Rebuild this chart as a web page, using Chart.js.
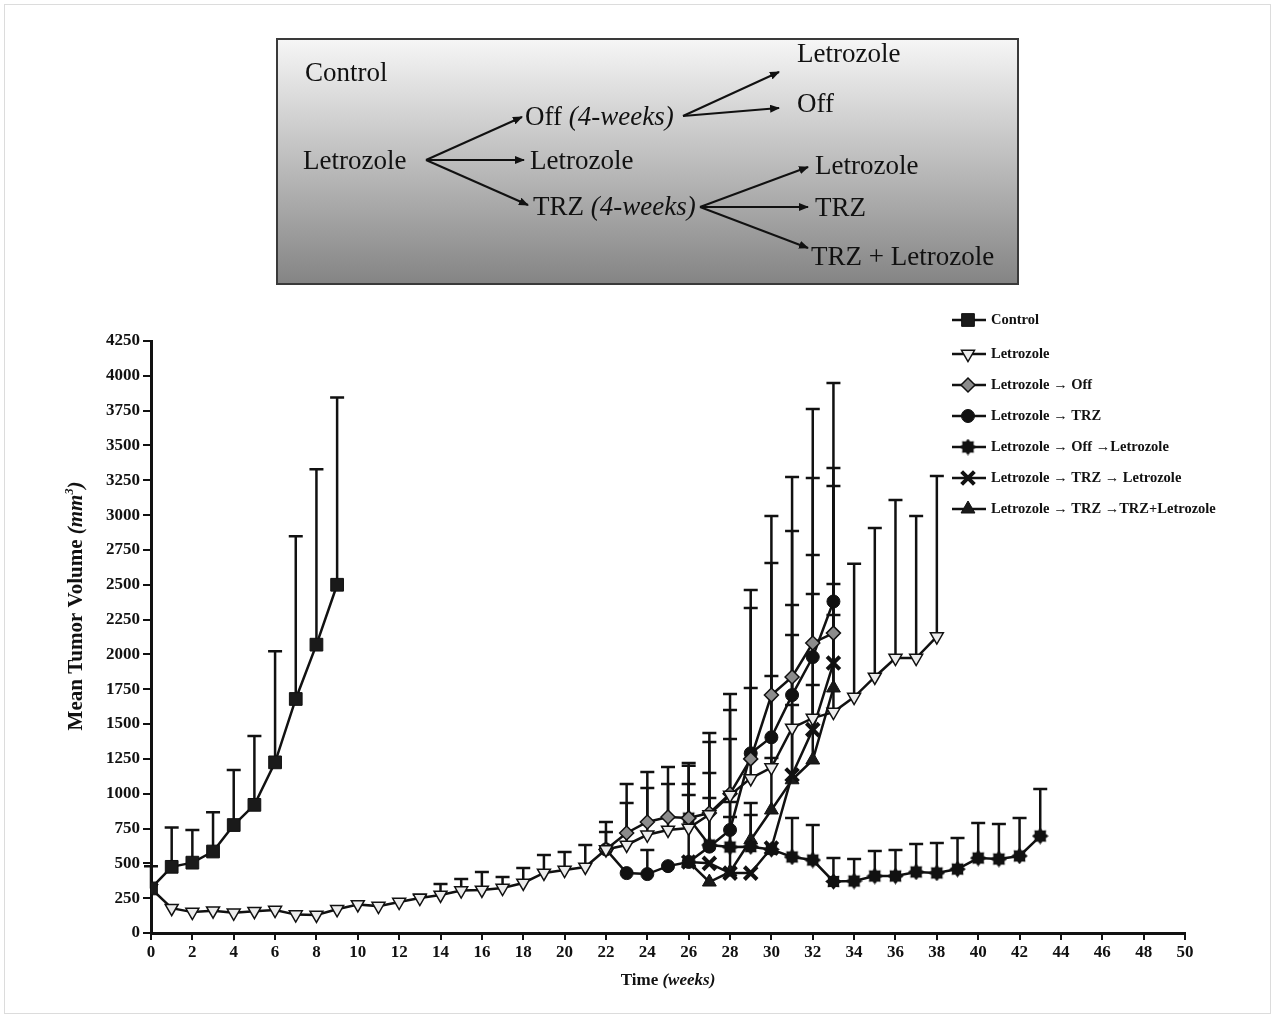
<!DOCTYPE html>
<html lang="en">
<head>
<meta charset="UTF-8">
<title>Mean Tumor Volume</title>
<script src="https://cdn.jsdelivr.net/npm/chart.js"></script>
<style>
  html, body { margin: 0; padding: 0; background: #fff; overflow: hidden; }
  #page { position: relative; width: 1275px; height: 1018px; }
  #frame { position: absolute; left: 4px; top: 4px; right: 4px; bottom: 4px; border: 1px solid #dcdcdc; }
  #chartWrap { position: absolute; left: 0; top: 0; width: 1275px; height: 1018px; }
  #scheme { position: absolute; left: 276px; top: 38px; }
  #scheme text { font-family: "Liberation Serif", "Times New Roman", serif; font-size: 27px; fill: #111; }
</style>
</head>
<body>
<div id="page">
  <div id="frame"></div>
  <div id="chartWrap"><canvas id="tumorChart"></canvas></div>

  <!-- treatment scheme box -->
  <svg id="scheme" width="744" height="248" viewBox="0 0 744 248">
    <defs>
      <linearGradient id="boxFill" x1="0" y1="0" x2="0" y2="1">
        <stop offset="0" stop-color="#f6f6f6"/>
        <stop offset="1" stop-color="#848484"/>
      </linearGradient>
      <marker id="head" markerWidth="10" markerHeight="8" refX="9" refY="4" orient="auto" markerUnits="userSpaceOnUse">
        <path d="M0,0 L10,4 L0,8 z" fill="#111"/>
      </marker>
    </defs>
    <rect x="1" y="1" width="741" height="245" fill="url(#boxFill)" stroke="#3a3a3a" stroke-width="2"/>
    <g stroke="#111" stroke-width="2" marker-end="url(#head)">
      <line x1="150" y1="122" x2="246" y2="79"/>
      <line x1="150" y1="122" x2="248" y2="122"/>
      <line x1="150" y1="122" x2="252" y2="167"/>
      <line x1="407" y1="78" x2="503" y2="34"/>
      <line x1="407" y1="78" x2="503" y2="70"/>
      <line x1="424" y1="169" x2="532" y2="129"/>
      <line x1="424" y1="169" x2="532" y2="169"/>
      <line x1="424" y1="169" x2="532" y2="210"/>
    </g>
    <text x="29" y="34" dominant-baseline="central">Control</text>
    <text x="27" y="122" dominant-baseline="central">Letrozole</text>
    <text x="249" y="78" dominant-baseline="central">Off <tspan font-style="italic">(4-weeks)</tspan></text>
    <text x="254" y="122" dominant-baseline="central">Letrozole</text>
    <text x="257" y="168" dominant-baseline="central">TRZ <tspan font-style="italic">(4-weeks)</tspan></text>
    <text x="521" y="15" dominant-baseline="central">Letrozole</text>
    <text x="521" y="65" dominant-baseline="central">Off</text>
    <text x="539" y="127" dominant-baseline="central">Letrozole</text>
    <text x="539" y="169" dominant-baseline="central">TRZ</text>
    <text x="535" y="218" dominant-baseline="central">TRZ + Letrozole</text>
  </svg>
</div>

<script>
// ---- data (weeks, mean volume, top of error bar = mean + SD) ----
const controlWeeks = [0, 1, 2, 3, 4, 5, 6, 7, 8, 9];
const controlMean = [320, 475, 505, 585, 775, 920, 1225, 1680, 2070, 2500];
const controlTop = [480, 758, 740, 866, 1170, 1415, 2022, 2848, 3330, 3845];

const letWeeks = [0, 1, 2, 3, 4, 5, 6, 7, 8, 9, 10, 11, 12, 13, 14, 15, 16, 17, 18, 19,
  20, 21, 22, 23, 24, 25, 26, 27, 28, 29, 30, 31, 32, 33, 34, 35, 36, 37, 38];
const letMean = [320, 178, 150, 160, 145, 157, 165, 132, 130, 170, 205, 193, 222, 251, 273, 305, 309, 323, 359, 431,
  452, 474, 600, 632, 705, 740, 754, 850, 990, 1110, 1188, 1472, 1543, 1586, 1694, 1838, 1974, 1974, 2128];
const letTop = [null, null, null, null, null, null, null, null, null, null, null, null, null, 275, 352, 388, 438, 402, 467, 560,
  581, 632, 725, 933, 1041, 1070, 1070, 1371, 1716, 1759, 1845, 2355, 2434, 2505, 2650, 2907, 3108, 2994, 3281];

const offWeeks = [22, 23, 24, 25, 26, 27, 28, 29, 30, 31, 32, 33];
const offMean = [600, 718, 797, 833, 825, 861, 1000, 1250, 1708, 1838, 2082, 2153];
const offTop = [797, 1070, 1156, 1192, 1220, 1436, 1601, 2333, 2994, 2886, 3266, 3338];

const trzWeeks = [22, 23, 24, 25, 26, 27, 28, 29, 30, 31, 32, 33];
const trzMean = [600, 430, 423, 480, 510, 620, 740, 1290, 1405, 1708, 1981, 2380];
const trzTop = [null, null, 596, null, 990, 1149, 1393, 2462, 2656, 3274, 3762, 3948];

const offLetWeeks = [26, 27, 28, 29, 30, 31, 32, 33, 34, 35, 36, 37, 38, 39, 40, 41, 42, 43];
const offLetMean = [825, 632, 617, 620, 600, 546, 524, 370, 373, 409, 409, 438, 431, 459, 538, 531, 553, 696];
const offLetTop = [1200, 969, 833, 847, null, 825, 775, 538, 531, 589, 596, 639, 646, 682, 790, 782, 825, 1034];

const trzLetWeeks = [26, 27, 28, 29, 30, 31, 32, 33];
const trzLetMean = [510, 500, 430, 430, 610, 1134, 1460, 1938];
const trzLetTop = [null, null, null, null, null, 2139, 2714, 3209];

const comboWeeks = [26, 27, 28, 29, 30, 31, 32, 33];
const comboMean = [510, 366, 438, 668, 883, 1100, 1242, 1759];
const comboTop = [null, null, 940, 933, 1256, 1637, 1780, 2283];

const xTicks = { min: 0, max: 50, step: 2 };
const yTicks = { min: 0, max: 4250, step: 250 };

// ---- helpers ----
function pts(weeks, means) {
  return weeks.map((w, i) => ({ x: w, y: means[i] }));
}

// cog-like marker for Letrozole -> Off -> Letrozole
function makeGear() {
  const c = document.createElement('canvas');
  c.width = 17; c.height = 17;
  const g = c.getContext('2d');
  g.fillStyle = '#111';
  g.beginPath();
  for (let i = 0; i < 16; i++) {
    const a = i * Math.PI / 8;
    const r = i % 2 === 0 ? 8.3 : 6.0;
    const px = 8.5 + r * Math.cos(a), py = 8.5 + r * Math.sin(a);
    i === 0 ? g.moveTo(px, py) : g.lineTo(px, py);
  }
  g.closePath();
  g.fill();
  return c;
}
const gear = makeGear();

const INK = '#111';
const serif = '"Liberation Serif", "Times New Roman", serif';

const datasets = [
  { label: 'Control', data: pts(controlWeeks, controlMean), errTop: controlTop,
    pointStyle: 'rect', pointRadius: 9, backgroundColor: '#1a1a1a', borderColor: INK, pointBorderWidth: 1 },
  { label: 'Letrozole', data: pts(letWeeks, letMean), errTop: letTop,
    pointStyle: 'triangle', pointRotation: 180, pointRadius: 7.5, backgroundColor: '#ececec', borderColor: INK, pointBorderWidth: 1.5 },
  { label: 'Letrozole \u2192 Off', data: pts(offWeeks, offMean), errTop: offTop,
    pointStyle: 'rectRot', pointRadius: 7, backgroundColor: '#8c8c8c', borderColor: INK, pointBorderWidth: 1.5 },
  { label: 'Letrozole \u2192 TRZ', data: pts(trzWeeks, trzMean), errTop: trzTop,
    pointStyle: 'circle', pointRadius: 6.5, backgroundColor: '#111', borderColor: INK, pointBorderWidth: 1 },
  { label: 'Letrozole \u2192 Off \u2192Letrozole', data: pts(offLetWeeks, offLetMean), errTop: offLetTop,
    pointStyle: gear, pointRadius: 8, backgroundColor: '#111', borderColor: INK, pointBorderWidth: 1 },
  { label: 'Letrozole \u2192 TRZ \u2192 Letrozole', data: pts(trzLetWeeks, trzLetMean), errTop: trzLetTop,
    pointStyle: 'crossRot', pointRadius: 9, backgroundColor: '#111', borderColor: INK, pointBorderWidth: 4 },
  { label: 'Letrozole \u2192 TRZ \u2192TRZ+Letrozole', data: pts(comboWeeks, comboMean), errTop: comboTop,
    pointStyle: 'triangle', pointRadius: 8, backgroundColor: '#1a1a1a', borderColor: INK, pointBorderWidth: 1 }
];
datasets.forEach(d => { d.showLine = true; d.borderWidth = 2.5; d.tension = 0; });

// vertical error bars, upper side only
const errorBars = {
  id: 'errorBars',
  beforeDatasetsDraw(chart) {
    const { ctx, scales: { x, y } } = chart;
    ctx.save();
    ctx.strokeStyle = INK;
    ctx.lineWidth = 2.5;
    chart.data.datasets.forEach(ds => {
      (ds.errTop || []).forEach((top, i) => {
        if (top == null) return;
        const px = x.getPixelForValue(ds.data[i].x);
        const y0 = y.getPixelForValue(ds.data[i].y);
        const y1 = y.getPixelForValue(top);
        ctx.beginPath();
        ctx.moveTo(px, y0); ctx.lineTo(px, y1);
        ctx.moveTo(px - 7, y1); ctx.lineTo(px + 7, y1);
        ctx.stroke();
      });
    });
    ctx.restore();
  }
};

// axis titles with mixed upright / italic parts, plus legend in the top right
const decorations = {
  id: 'decorations',
  afterDraw(chart) {
    const ctx = chart.ctx;
    const area = chart.chartArea;
    ctx.save();
    ctx.fillStyle = INK;
    ctx.textBaseline = 'middle';

    // x title
    const xa = 'Time ', xb = '(weeks)';
    ctx.font = 'bold 17px ' + serif;
    const wa = ctx.measureText(xa).width;
    ctx.font = 'italic bold 17px ' + serif;
    const wb = ctx.measureText(xb).width;
    let sx = (area.left + area.right) / 2 - (wa + wb) / 2;
    ctx.font = 'bold 17px ' + serif;
    ctx.fillText(xa, sx, 981);
    ctx.font = 'italic bold 17px ' + serif;
    ctx.fillText(xb, sx + wa, 981);

    // y title
    ctx.translate(77, 606);
    ctx.rotate(-Math.PI / 2);
    const ya = 'Mean Tumor Volume ', yb = '(mm', ysup = '3', yc = ')';
    ctx.font = 'bold 21px ' + serif;
    const w1 = ctx.measureText(ya).width;
    ctx.font = 'italic bold 21px ' + serif;
    const w2 = ctx.measureText(yb).width;
    ctx.font = 'italic bold 12px ' + serif;
    const w3 = ctx.measureText(ysup).width;
    ctx.font = 'italic bold 21px ' + serif;
    const w4 = ctx.measureText(yc).width;
    let s = -(w1 + w2 + w3 + w4) / 2;
    ctx.font = 'bold 21px ' + serif;
    ctx.fillText(ya, s, 0); s += w1;
    ctx.font = 'italic bold 21px ' + serif;
    ctx.fillText(yb, s, 0); s += w2;
    ctx.font = 'italic bold 12px ' + serif;
    ctx.fillText(ysup, s, -7); s += w3;
    ctx.font = 'italic bold 21px ' + serif;
    ctx.fillText(yc, s, 0);
    ctx.setTransform(1, 0, 0, 1, 0, 0);

    // legend
    const rows = [320, 354, 385, 416, 447, 478, 509];
    chart.data.datasets.forEach((ds, i) => {
      const ly = rows[i];
      ctx.strokeStyle = INK;
      ctx.lineWidth = 2.5;
      ctx.beginPath();
      ctx.moveTo(952, ly); ctx.lineTo(986, ly);
      ctx.stroke();
      ctx.fillStyle = ds.backgroundColor;
      ctx.lineWidth = ds.pointBorderWidth;
      Chart.helpers.drawPoint(ctx, {
        pointStyle: ds.pointStyle, rotation: ds.pointRotation || 0,
        radius: ds.pointRadius, borderWidth: ds.pointBorderWidth
      }, 968, ly);
      ctx.fillStyle = INK;
      ctx.font = 'bold 14.5px ' + serif;
      ctx.textAlign = 'left';
      ctx.fillText(ds.label, 991, ly);
    });
    ctx.restore();
  }
};

new Chart(document.getElementById('tumorChart'), {
  type: 'line',
  data: { datasets },
  options: {
    responsive: true,
    maintainAspectRatio: false,
    animation: false,
    layout: { padding: { left: 61, right: 90, top: 341, bottom: 35 } },
    plugins: { legend: { display: false }, tooltip: { enabled: false } },
    scales: {
      x: {
        type: 'linear', min: xTicks.min, max: xTicks.max,
        afterFit: s => { s.height = 50; },
        ticks: { stepSize: xTicks.step, color: INK, font: { family: serif, size: 17, weight: 'bold' }, maxRotation: 0, padding: 2 },
        grid: { drawOnChartArea: false, drawTicks: true, tickLength: 7, color: INK, lineWidth: 2 },
        border: { color: INK, width: 3 }
      },
      y: {
        min: yTicks.min, max: yTicks.max,
        afterFit: s => { s.width = 90; },
        ticks: { stepSize: yTicks.step, color: INK, font: { family: serif, size: 17, weight: 'bold' }, padding: 3,
          callback: v => String(v) },
        grid: { drawOnChartArea: false, drawTicks: true, tickLength: 8, color: INK, lineWidth: 2 },
        border: { color: INK, width: 3 }
      }
    }
  },
  plugins: [errorBars, decorations]
});
</script>
</body>
</html>
